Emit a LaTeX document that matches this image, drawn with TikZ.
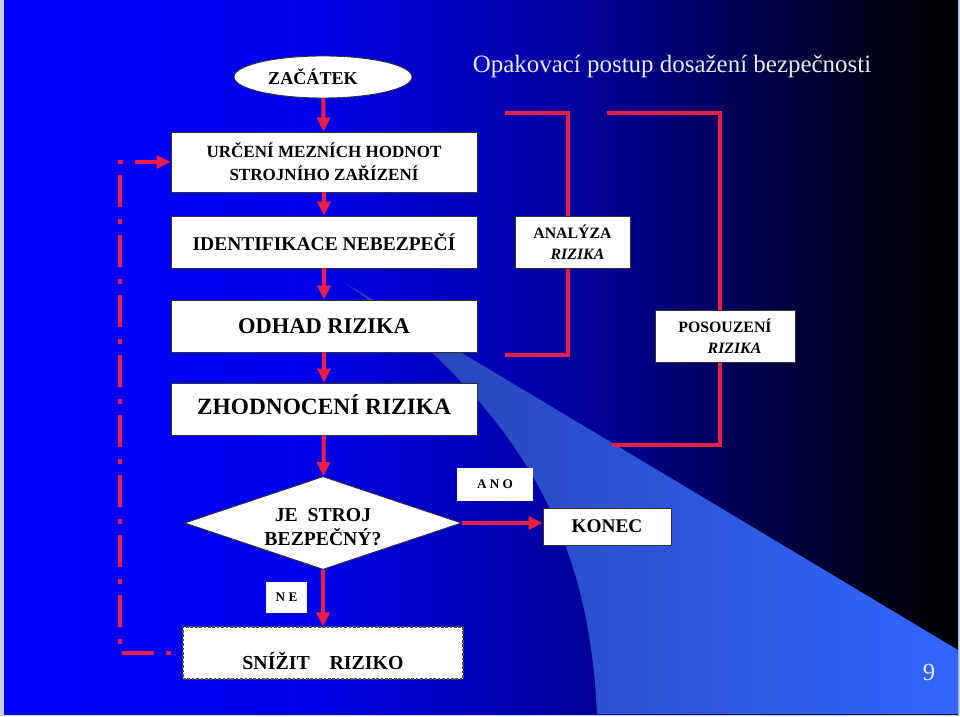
\documentclass[tikz,border=0pt]{standalone}
\usepackage{fontspec}
\setmainfont{Liberation Serif}
\usetikzlibrary{arrows.meta,shapes.geometric}

\definecolor{slideblue}{RGB}{0,0,255}
\definecolor{wedgeblue}{RGB}{51,102,255}
\definecolor{wedgedark}{RGB}{38,66,175}
\definecolor{flowred}{RGB}{236,30,72}
\definecolor{edgegrey}{RGB}{205,210,235}
\definecolor{titlegrey}{RGB}{232,232,232}

% slide background: bright blue on the left, black on the right
\pgfdeclarehorizontalshading{slideshade}{100bp}{color(0bp)=(slideblue); color(25bp)=(slideblue);
  color(40bp)=(slideblue!93!black); color(50bp)=(slideblue!72!black); color(57bp)=(slideblue!56!black);
  color(65bp)=(slideblue!28!black); color(70bp)=(slideblue!12!black); color(75bp)=(black); color(100bp)=(black)}

% posun textu v uzlu beze zmeny velikosti uzlu
\newcommand{\shiftdown}[2]{\raisebox{-#1}[\height][\depth]{#2}}

\begin{document}
\begin{tikzpicture}[
    box/.style={draw=black!80, line width=0.5pt, fill=white, minimum width=6.12cm, minimum height=1.04cm, inner sep=1pt, align=center},
    sidebox/.style={draw=black!80, line width=0.5pt, fill=white, minimum height=1.04cm, inner sep=1pt, align=center, font=\fontsize{9}{11.9}\selectfont\bfseries},
    tagbox/.style={fill=white, inner sep=0pt, font=\fontsize{7.5}{9}\selectfont\bfseries},
    flow/.style={draw=flowred, line width=2.3pt, ->},
    bracket/.style={draw=flowred, line width=2.3pt, line join=miter},
    loopback/.style={draw=flowred, line width=2.3pt, ->, dash pattern=on 0.64cm off 0.22cm on 0.1cm off 0.24cm, dash phase=0.64cm},
    >={Triangle[length=0.28cm, width=0.26cm]}
]
    \useasboundingbox (0,0) rectangle (19.2,14.32);

    % pozadi snimku
    \fill[edgegrey] (0,0) rectangle (19.2,14.32);
    \shade[shading=slideshade] (0.08,0.04) rectangle (19.16,14.30);
    \shade[left color=wedgedark, right color=wedgeblue]
        (6.9,8.66) -- (19.16,1.32) -- (19.16,0.04) -- (11.94,0.04)
        .. controls (11.8,3.12) and (10.8,5.92) .. (6.9,8.66);

    % svorky ANALYZA / POSOUZENI (pod uzly)
    \coordinate (anaTop) at (10.1,12.06);   % horni konec
    \coordinate (anaCorner) at (11.36,7.22);
    \coordinate (anaBot) at (10.1,7.22);    % dolni konec
    \coordinate (posTop) at (12.14,12.06);
    \coordinate (posCorner) at (14.4,5.42);
    \coordinate (posBot) at (12.24,5.42);
    \draw[bracket] (anaTop) -| (anaCorner) -- (anaBot);
    \draw[bracket] (posTop) -| (posCorner) -- (posBot);

    % uzly
    \node[ellipse, draw=black!80, line width=0.5pt, fill=white, minimum width=3.56cm, minimum height=0.84cm,
          font=\fontsize{10.3}{12}\selectfont\bfseries] (start) at (6.46,12.78) {ZAČÁTEK\hspace*{0.4cm}};
    \node[text=titlegrey, font=\fontsize{14.2}{17}\selectfont] (title) at (13.44,13.0)
        {Opakovací postup dosažení bezpečnosti};

    \node[box, minimum height=1.2cm, font=\fontsize{9.7}{13}\selectfont\bfseries] (urceni) at (6.48,11.08)
        {URČENÍ MEZNÍCH HODNOT\\STROJNÍHO ZAŘÍZENÍ};
    \node[box, font=\fontsize{11.1}{13}\selectfont\bfseries] (ident) at (6.48,9.48) {IDENTIFIKACE NEBEZPEČÍ};
    \node[sidebox, minimum width=2.3cm] (analyza) at (11.45,9.48)
        {ANALÝZA\\\hspace*{0.2cm}\textit{RIZIKA}};
    \node[box, font=\fontsize{12.8}{15}\selectfont\bfseries] (odhad) at (6.48,7.8) {ODHAD RIZIKA};
    \node[sidebox, minimum width=2.8cm] (posouzeni) at (14.5,7.6)
        {POSOUZENÍ\\\hspace*{0.38cm}\textit{RIZIKA}};
    \node[box, font=\fontsize{13.3}{15}\selectfont\bfseries] (zhodnoceni) at (6.48,6.14)
        {\shiftdown{-0.08cm}{ZHODNOCENÍ RIZIKA}};

    \node[diamond, aspect=3, draw=black!80, line width=0.5pt, fill=white, minimum width=5.54cm,
          minimum height=1.86cm, inner sep=0pt, font=\fontsize{11.2}{13.6}\selectfont\bfseries]
        (dia) at (6.46,3.86) {\shiftdown{0.12cm}{\begin{tabular}{@{}c@{}}JE\ \ STROJ\\BEZPEČNÝ?\end{tabular}}};
    \node[tagbox, minimum width=1.52cm, minimum height=0.66cm] (ano) at (9.9,4.63) {A N O};
    \node[sidebox, minimum width=2.56cm, minimum height=0.74cm, font=\fontsize{11}{13}\selectfont\bfseries]
        (konec) at (12.14,3.79) {KONEC};
    \node[tagbox, minimum width=0.82cm, minimum height=0.62cm] (ne) at (5.73,2.37) {N E};
    \node[box, minimum width=5.6cm, draw=black!70, dash pattern=on 1.5pt off 1pt, line width=0.6pt,
          font=\fontsize{11.3}{13}\selectfont\bfseries] (snizit) at (6.46,1.26)
        {\shiftdown{0.16cm}{SNÍŽIT\quad RIZIKO}};

    \node[text=titlegrey, font=\fontsize{14}{16}\selectfont] (pagenum) at (18.58,0.88) {9};

    % sipky
    \draw[flow] (start) -- (urceni);
    \draw[flow] (urceni) -- (ident);
    \draw[flow] (ident) -- (odhad);
    \draw[flow] (odhad) -- (zhodnoceni);
    \draw[flow] (zhodnoceni) -- (dia);
    \draw[flow] (dia) -- (snizit);
    \draw[flow] (dia.east) -- (dia.east -| konec.west);

    % navrat po snizeni rizika
    \coordinate (loopCorner) at (2.4,1.26);
    \draw[loopback] (snizit.west) -- (loopCorner) |- (urceni.west);

\end{tikzpicture}
\end{document}
